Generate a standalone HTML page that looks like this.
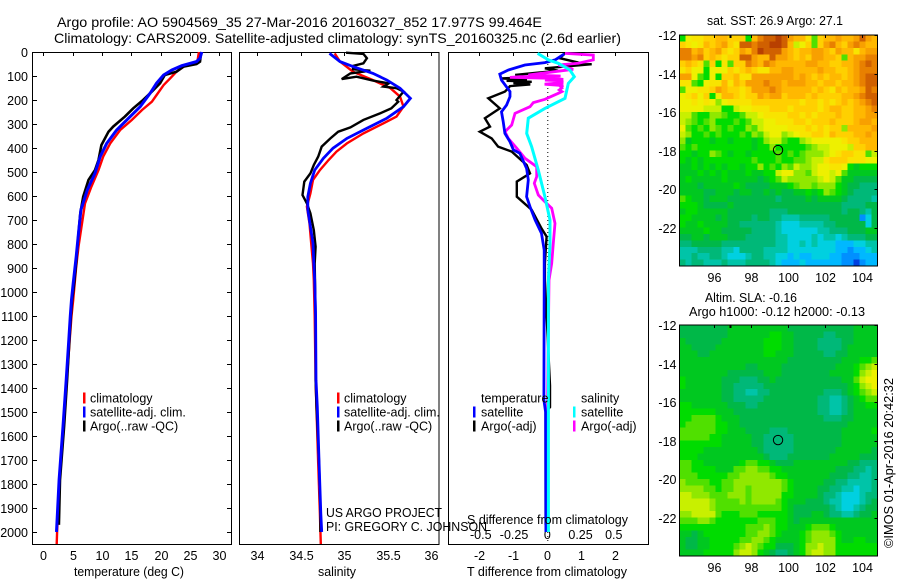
<!DOCTYPE html>
<html lang="en">
<head>
<meta charset="utf-8">
<title>Argo profile</title>
<style>
html,body{margin:0;padding:0;background:#fff;width:900px;height:580px;overflow:hidden}
svg{display:block}
text{font-family:"Liberation Sans",sans-serif;font-size:12.5px;fill:#000}
.ln{fill:none;stroke-linejoin:miter;stroke-linecap:butt}
</style>
</head>
<body>
<svg id="fig" xmlns="http://www.w3.org/2000/svg" width="900" height="580" viewBox="0 0 900 580">
<rect x="0" y="0" width="900" height="580" fill="#fff"/>
<text x="57" y="27" font-size="14" style="font-size:14px" textLength="485" lengthAdjust="spacingAndGlyphs">Argo profile: AO 5904569_35 27-Mar-2016 20160327_852 17.977S 99.464E</text>
<text x="54" y="43" style="font-size:14px" textLength="567" lengthAdjust="spacingAndGlyphs">Climatology: CARS2009. Satellite-adjusted climatology: synTS_20160325.nc (2.6d earlier)</text>
<g id="layer-maps"></g>
<g id="layer-plots"></g>
<text x="74" y="576" textLength="110" lengthAdjust="spacingAndGlyphs">temperature (deg C)</text>
<text x="318" y="576" textLength="38" lengthAdjust="spacingAndGlyphs">salinity</text>
<text x="467" y="576" textLength="160" lengthAdjust="spacingAndGlyphs">T difference from climatology</text>
<text x="467" y="524" textLength="161" lengthAdjust="spacingAndGlyphs">S difference from climatology</text>
<text x="326" y="517" textLength="116" lengthAdjust="spacingAndGlyphs">US ARGO PROJECT</text>
<text x="326" y="531" textLength="161" lengthAdjust="spacingAndGlyphs">PI: GREGORY C. JOHNSON</text>
<text x="707" y="25" textLength="136" lengthAdjust="spacingAndGlyphs">sat. SST: 26.9 Argo: 27.1</text>
<text x="705" y="302" textLength="92" lengthAdjust="spacingAndGlyphs">Altim. SLA: -0.16</text>
<text x="689" y="316" textLength="176" lengthAdjust="spacingAndGlyphs">Argo h1000: -0.12 h2000: -0.13</text>
<text transform="translate(893,548) rotate(-90)" textLength="170" lengthAdjust="spacingAndGlyphs">©IMOS 01-Apr-2016 20:42:32</text>
</svg>
<script>
// ---- profile data ----
const climDepth=[0,40,50,58,82,110,138,179,207,242,283,325,381,436,492,561,631,728,811,894,978,1033,1100,1200,1367,1561,1783,2000,2050];
const climTemp=[26.5,26.25,25.3,24.1,22.7,21.6,20.5,19.3,18.5,16.8,15.1,13.1,11.4,10.2,9.4,8.2,7.1,6.5,6,5.6,5.3,5.1,4.8,4.5,4,3.45,2.78,2.35,2.28];
const satDepth=[0,26,40,57,75,96,130,172,228,269,325,381,436,505,575,658,755,853,964,1033,1100,1200,1367,1561,1783,2000];
const satTemp=[27,26.7,26.1,23.6,21.9,20.5,19.3,18.2,16.5,14.8,12.5,10.8,9.7,8.8,7.5,6.4,6,5.6,5.1,4.8,4.6,4.35,3.9,3.35,2.7,2.25];
const argoDepth=[0,40,50,61,82,96,130,165,200,235,269,311,332,388,450,492,533,603,672,755,880,978,1033,1100,1200,1367,1561,1783,1970];
const argoTemp=[26.9,26.7,26.1,23.9,22.7,20.7,19.9,18.5,17,15.3,13.9,11.9,11.1,9.9,9.4,8.8,7.7,6.8,6.3,6,5.6,5.2,4.9,4.7,4.45,4.05,3.55,2.85,2.65];

const climSalDepth=[6,40,82,117,151,186,228,269,297,339,381,415,450,492,533,589,644,714,797,881,950,1100,1367,1714,1922,2050];
const climSal=[34.89,34.95,35.1,35.33,35.53,35.64,35.68,35.6,35.45,35.22,35.03,34.91,34.82,34.72,34.64,34.61,34.57,34.6,34.62,34.64,34.65,34.66,34.67,34.7,34.72,34.73];
const satSalDepth=[6,40,61,89,117,151,193,228,276,318,360,401,443,492,547,603,658,728,797,881,950,1100,1367,1478,1714,1922,2000];
const satSal=[34.83,34.95,35.1,35.33,35.49,35.64,35.76,35.68,35.49,35.26,35.03,34.87,34.76,34.66,34.61,34.58,34.58,34.61,34.64,34.65,34.66,34.67,34.675,34.69,34.71,34.73,34.74];
const argoSalDepth=[3,8,26,47,58,72,78,89,113,103,119,131,144,151,165,200,207,235,256,283,314,332,360,394,436,471,506,540,596,631,672,742,811,881,1100,1367,1478,1714,1922,2000];
const argoSal=[35.02,35.22,35.26,35.22,35.1,35.1,35.3,35.07,34.97,35.14,35.33,35.51,35.45,35.6,35.68,35.6,35.62,35.54,35.41,35.22,35.07,34.93,34.84,34.74,34.7,34.65,34.61,34.54,34.52,34.57,34.61,34.65,34.67,34.66,34.67,34.67,34.68,34.71,34.725,34.725];

const dTempSatDepth=[8,33,44,54,75,92,117,165,186,221,249,290,339,374,408,422,485,533,603,644,700,756,825,950,1450,1500,2000];
const dTempSat=[0.5,0.23,-0.07,-0.66,-1.15,-1.4,-1.35,-1.1,-1.1,-1.2,-1.35,-1.3,-1.25,-1.1,-1,-0.81,-0.61,-0.56,-0.61,-0.51,-0.36,-0.17,-0.09,-0.09,-0.1,-0.05,-0.04];
const dTempArgoDepth=[6,26,47,54,51,68,78,96,86,104,110,116,120,124,130,135,142,151,165,193,235,276,311,332,360,394,415,471,506,540,603,658,735,769,881,950,1390,1480,1500,1970];
const dTempArgo=[0.52,0.37,1.01,0.32,1.31,-0.07,0.32,-0.95,-0.27,-0.3,-1.35,-0.6,-1.2,-0.46,-1,-0.5,-1.1,-1.15,-1.25,-1.74,-1.4,-1.84,-1.69,-1.99,-1.64,-1.45,-1.05,-0.61,-0.51,-0.9,-0.9,-0.46,-0.17,-0.02,-0.07,-0.07,0.08,0.08,-0.05,-0.05];
const dSalSatDepth=[6,33,47,75,103,131,193,235,276,339,394,492,603,700,797,950,1300,2000];
const dSalSat=[-0.073,0.008,0.083,0.17,0.203,0.158,0.133,-0.018,-0.143,-0.155,-0.118,-0.068,-0.018,0.02,0.02,0.008,0.008,0.008];
const dSalArgoDepth=[6,13,33,47,54,72,96,100,103,106,110,114,117,120,124,128,134,140,144,150,158,165,172,197,211,228,256,304,332,360,401,443,478,519,547,596,624,651,714,797,881,950,1300,2000];
const dSalArgo=[0.133,0.346,0.346,0.233,0.083,0.195,-0.143,0.1,-0.2,-0.281,0.05,0.12,-0.018,0.12,0.09,0.12,-0.02,0.12,0.1,0.11,0.09,0.11,0.083,-0.018,-0.105,-0.13,-0.243,-0.268,-0.318,-0.293,-0.23,-0.168,-0.08,-0.08,-0.098,-0.068,-0.018,0.033,0.058,0.045,0.033,0.013,0.005,-0.01];

// ---- tick labels ----
const depthTicks=[0,100,200,300,400,500,600,700,800,900,1000,1100,1200,1300,1400,1500,1600,1700,1800,1900,2000];
const tempTicks=[0,5,10,15,20,25,30];
const salTicks=[34,34.5,35,35.5,36];
const dTempTicks=[-2,-1,0,1,2];
const dSalTicks=[-0.5,-0.25,0,0.25,0.5];
const lonTicks=[96,98,100,102,104];
const latTicks=[-12,-14,-16,-18,-20,-22];

// ---- float position ----
const argoLon=[99.464];
const argoLat=[-17.977];

// ---- map grids: colour-class level per cell, 33 columns x 36 rows, north to south ----
const sstGrid=[
[8,12,13,13,14,14,15,15,14,14,14,8,15,17,18,18,19,18,16,15,15,13,9,14,15,15,16,15,15,16,18,16,15],
[14,13,12,13,15,14,15,16,14,13,18,18,17,18,18,19,19,18,15,11,12,14,9,14,16,17,15,14,16,17,16,15,15],
[17,17,15,16,14,15,16,14,13,14,16,15,17,19,18,18,18,16,15,14,15,15,16,16,15,14,16,15,15,13,15,16,16],
[17,17,16,17,14,15,14,13,14,14,18,18,16,15,15,18,16,16,15,14,15,14,16,16,15,15,14,9,15,16,16,17,17],
[14,15,14,13,9,14,8,13,9,14,14,17,16,15,17,16,15,15,15,15,15,16,16,15,15,14,14,15,15,16,17,18,17],
[13,14,12,12,8,12,12,12,14,13,14,15,14,13,13,15,15,16,16,15,15,15,15,16,15,15,14,14,15,16,17,17,17],
[16,16,12,9,8,12,8,14,14,15,13,13,16,16,16,16,16,16,16,15,16,15,14,15,14,15,15,14,15,16,17,18,18],
[13,13,9,8,12,13,13,15,13,15,14,16,16,16,17,16,16,15,16,16,16,15,15,14,15,15,14,15,15,16,17,18,18],
[9,12,12,13,13,14,16,15,14,14,13,14,16,16,16,17,16,15,15,15,15,15,14,15,14,13,15,14,15,15,16,18,17],
[12,13,14,12,14,8,12,15,15,14,13,14,14,16,15,16,16,14,15,15,15,14,15,14,14,14,14,15,15,16,17,18,18],
[12,12,13,12,13,12,10,12,13,13,13,13,14,14,14,14,14,14,14,14,13,14,14,13,14,13,14,15,14,15,16,17,18],
[12,12,12,12,11,11,11,8,8,11,12,12,13,13,13,14,14,14,13,14,14,14,14,13,14,15,15,14,14,15,15,16,17],
[11,11,9,8,8,10,10,9,8,8,9,11,11,12,13,13,13,13,14,14,13,14,13,14,14,14,15,14,14,15,15,16,16],
[11,10,9,8,9,10,8,8,8,9,8,9,11,11,12,12,13,13,13,14,14,13,14,14,14,15,14,14,14,15,16,16,15],
[12,9,8,9,8,10,9,8,9,8,8,10,9,11,12,12,12,12,13,13,13,14,13,14,13,14,14,10,15,15,15,15,16],
[11,10,8,8,9,8,9,8,8,8,9,8,10,9,11,12,12,10,11,12,13,13,14,14,13,15,14,14,14,15,15,16,15],
[10,7,8,8,8,7,8,8,7,8,8,8,7,8,10,11,11,9,8,8,10,11,12,12,12,12,12,13,14,14,15,15,15],
[9,8,9,8,8,8,8,8,8,8,8,8,7,8,8,10,8,8,8,8,8,9,10,11,11,12,12,12,11,14,14,15,15],
[8,8,7,8,8,10,9,8,7,8,8,7,8,8,8,8,9,8,9,8,9,10,10,10,11,12,13,14,14,13,13,9,11],
[8,7,8,7,8,8,8,8,8,8,8,8,9,8,8,8,9,8,8,9,9,10,11,11,13,14,14,14,13,13,13,12,12],
[7,7,8,7,8,7,8,7,8,8,7,8,8,10,8,9,8,10,9,11,10,10,11,12,12,13,13,12,8,7,8,8,8],
[7,7,7,8,7,8,7,8,7,7,7,8,7,7,8,8,11,12,12,10,10,9,11,12,12,11,12,9,7,7,7,7,7],
[7,8,7,7,7,7,7,8,7,7,7,7,7,6,7,8,9,11,10,10,10,10,10,11,12,11,9,7,7,6,6,6,6],
[7,7,7,6,7,7,7,7,7,8,7,6,6,6,6,7,7,7,8,9,10,10,9,10,10,10,8,7,6,6,5,5,5],
[7,7,7,7,6,6,7,7,7,6,7,7,6,6,7,6,7,6,6,7,7,8,7,8,10,9,8,7,6,5,5,5,5],
[9,8,7,7,6,7,7,7,6,6,6,6,6,6,6,6,5,6,6,6,6,7,6,7,7,7,7,6,5,5,5,5,4],
[8,8,8,7,6,6,6,6,7,6,6,6,6,6,6,6,6,6,6,6,6,6,6,6,6,6,6,5,5,5,5,6,6],
[7,8,8,7,7,7,7,7,6,6,6,6,6,6,6,5,5,5,6,6,6,6,6,6,6,6,6,5,6,6,5,4,6],
[8,8,7,7,7,7,6,7,6,6,6,6,5,6,6,5,5,4,4,4,5,5,5,5,5,6,6,6,6,6,1,3,6],
[8,7,7,8,7,7,7,7,6,6,5,5,5,5,5,5,4,3,3,3,4,4,4,4,5,5,6,6,6,6,6,3,6],
[7,7,7,7,8,7,7,6,6,6,6,6,5,5,5,5,4,3,3,3,3,3,3,4,4,5,5,5,6,6,6,7,7],
[6,6,7,7,6,7,7,7,6,6,6,5,5,5,5,5,4,4,3,3,3,3,4,3,4,4,3,4,5,5,5,6,6],
[5,5,6,6,6,6,6,5,5,5,5,5,5,5,5,5,4,4,3,3,4,3,4,3,3,3,2,2,2,3,3,4,4],
[4,4,4,5,5,5,5,4,4,3,5,5,5,5,4,4,4,4,3,3,3,3,3,3,3,3,2,2,1,2,2,3,4],
[4,4,5,4,4,5,5,4,3,3,3,4,5,5,4,4,3,3,2,3,2,2,3,3,3,2,2,1,1,1,2,2,2],
[5,4,5,5,4,4,4,5,4,4,4,5,5,5,5,4,3,2,2,2,3,2,2,2,2,2,2,1,1,0,1,2,2]
];
const slaGrid=[
[6,6,6,6,6,6,6,6,7,7,7,7,7,7,7,7,7,7,6,6,6,6,6,6,6,6,6,6,6,7,7,7,7],
[6,6,6,6,6,6,6,6,7,7,7,7,7,7,7,8,8,7,7,6,6,6,6,6,5,5,6,6,6,7,7,7,7],
[7,6,6,6,6,6,6,7,7,7,7,7,7,7,8,8,8,7,7,6,6,6,6,5,5,5,5,6,6,7,7,7,7],
[7,7,6,6,6,6,7,7,7,7,7,7,7,7,8,8,8,7,7,6,6,6,6,5,5,5,5,6,7,7,7,7,7],
[7,7,7,6,6,7,7,7,7,7,7,7,7,7,8,8,7,7,7,6,6,6,6,6,5,5,6,6,7,7,7,7,7],
[7,7,7,7,7,7,7,7,7,7,7,7,7,7,7,7,7,7,6,6,6,6,6,6,6,6,6,7,7,7,8,8,9],
[7,7,7,7,7,7,7,7,7,7,7,6,6,7,7,7,7,6,6,6,6,6,6,6,6,6,7,7,7,8,9,10,11],
[7,7,7,7,7,7,7,7,6,6,6,6,6,6,7,7,7,6,6,6,6,6,6,6,6,7,7,7,7,8,10,11,12],
[8,7,7,7,7,7,7,6,6,6,5,5,5,6,6,7,6,6,6,6,6,6,6,6,6,6,6,7,7,9,11,12,12],
[8,7,7,7,7,7,7,6,6,5,5,5,5,5,6,6,6,6,6,6,6,6,6,6,6,6,6,6,7,8,10,11,12],
[7,7,7,7,7,7,7,6,6,5,5,4,4,5,5,6,6,6,6,6,6,6,6,6,5,5,5,6,7,8,9,10,11],
[7,7,7,7,7,7,7,6,6,5,5,5,5,5,6,6,6,6,6,6,6,6,6,5,5,4,4,5,6,7,8,9,9],
[8,8,7,7,7,7,7,7,6,6,6,5,5,6,6,6,6,6,6,6,6,6,6,5,5,4,4,5,6,7,7,8,8],
[8,8,8,8,8,8,7,7,7,6,6,6,6,6,6,6,6,6,6,6,6,6,6,5,5,4,4,5,6,7,7,7,7],
[8,8,9,9,9,9,8,7,7,7,6,6,6,6,6,6,6,6,6,6,6,6,6,6,5,5,5,6,6,7,7,7,7],
[8,9,9,9,9,9,8,8,7,7,6,6,6,6,6,6,6,6,6,6,6,6,6,6,6,6,6,6,7,7,7,7,7],
[9,9,9,9,9,9,8,8,7,7,7,6,6,6,6,5,5,5,6,6,6,6,6,6,6,6,6,7,7,7,7,7,8],
[9,9,9,9,9,8,8,7,7,7,7,7,6,6,5,5,5,5,5,6,6,6,6,6,6,6,6,7,7,7,7,7,7],
[8,8,8,8,8,8,8,7,7,7,7,7,6,6,5,5,5,5,5,6,6,6,6,6,6,6,6,7,7,7,7,7,7],
[8,8,8,8,7,7,7,7,7,7,7,7,7,6,5,5,5,5,5,6,6,6,6,6,6,6,7,7,7,7,7,7,6],
[8,8,8,7,7,7,7,7,7,7,7,7,7,7,6,5,5,5,6,6,6,6,6,6,6,7,7,7,7,7,6,6,6],
[9,9,8,8,7,7,7,7,7,7,8,9,9,8,8,7,6,6,6,7,7,7,7,7,7,7,7,7,6,6,5,5,5],
[9,9,8,8,8,8,7,7,7,9,9,10,10,9,9,8,8,7,7,7,7,7,7,7,7,7,6,6,6,5,5,4,5],
[9,9,9,8,8,8,8,8,9,9,10,10,10,10,10,9,8,8,7,7,7,7,7,7,7,6,6,6,5,5,4,4,5],
[10,9,9,9,9,8,8,9,9,10,10,10,10,10,10,10,10,9,8,7,7,7,7,7,6,6,5,5,4,4,4,4,5],
[10,10,10,10,9,9,8,9,9,10,10,9,10,10,10,10,10,9,8,7,7,7,7,6,6,5,5,4,4,3,4,4,5],
[11,11,10,10,10,9,9,9,10,10,10,9,10,10,10,10,10,8,8,7,7,7,7,6,5,5,4,3,3,3,4,5,5],
[11,11,11,11,11,10,9,9,9,9,10,9,10,10,10,10,9,8,7,7,7,6,6,6,5,4,4,3,3,3,4,5,6],
[11,11,11,11,11,10,9,9,9,9,9,9,9,9,9,9,9,8,7,6,6,6,6,6,6,5,4,3,3,4,5,6,6],
[10,10,11,11,11,11,9,8,8,8,9,9,9,8,8,8,8,8,7,6,6,6,7,7,6,5,5,4,4,5,6,6,7],
[9,9,9,10,10,9,8,8,8,8,8,8,8,9,9,9,8,8,7,6,7,7,7,7,7,7,7,7,7,7,7,7,7],
[8,8,8,8,8,8,8,8,8,8,8,9,9,9,10,9,8,8,7,7,7,8,9,9,9,8,7,7,7,7,7,7,7],
[7,7,6,7,8,8,8,8,8,8,8,9,9,10,10,9,8,7,7,7,8,9,10,10,10,9,8,7,7,7,7,7,7],
[7,6,6,7,7,8,8,8,8,8,9,9,10,10,9,8,7,7,7,7,8,9,10,10,10,10,8,7,7,8,8,7,7],
[7,6,6,7,7,8,8,8,8,9,10,11,10,9,8,8,6,6,6,7,8,10,10,11,10,10,8,8,8,8,8,8,8],
[7,7,7,7,8,8,8,8,8,10,11,11,10,8,7,6,5,5,6,7,8,10,11,11,10,10,8,8,8,8,8,8,8]
];
const palette=["#0040e0","#0090ff","#00b8ff","#00d0e0","#00c4a8","#00b878","#00b848","#00c820","#00dc00","#50e000","#90e800","#c8f000","#eef000","#f8e400","#ffd000","#ffb800","#f8a000","#e88000","#d06000","#b84000"];

// ---- axis functions ----
const NS="http://www.w3.org/2000/svg";
const yDepth=d=>52+0.24*d;
const xTemp=t=>43.3+5.87*t;
const xSal=s=>344.3+87*(s-35);
const xDTemp=t=>547.3+33.9*t;
const xDSal=s=>547.3+133*s;
const xLon=l=>714.3+18.4*(l-96);
const yLatTop=l=>35+19.25*(-12-l);
const yLatBot=l=>325+19.25*(-12-l);

const plots=document.getElementById('layer-plots');
const maps=document.getElementById('layer-maps');

function make(tag,parent,attrs){
  const el=document.createElementNS(NS,tag);
  for(const k in attrs){el.setAttribute(k,attrs[k]);}
  parent.appendChild(el);
  return el;
}
function label(parent,x,y,str,anchor,name){
  const el=make('text',parent,{x:x,y:y,'text-anchor':anchor});
  el.textContent=str;
  
  
  return el;
}
function segment(parent,x1,y1,x2,y2,name){
  const el=make('line',parent,{x1:x1,y1:y1,x2:x2,y2:y2,stroke:'#000','stroke-width':1,'shape-rendering':'crispEdges'});
  
  
  return el;
}
function frame(parent,x,y,w,h,name){
  const el=make('rect',parent,{x:x,y:y,width:w,height:h,fill:'none',stroke:'#000','stroke-width':1,'shape-rendering':'crispEdges'});
  
  
  return el;
}
function series(xf,values,depths,color,width,name){
  const pts=values.map((v,i)=>xf(v).toFixed(1)+','+yDepth(depths[i]).toFixed(1)).join(' ');
  const el=make('polyline',plots,{points:pts,class:'ln',stroke:color,'stroke-width':width});
  
  
  return el;
}
function legendBar(x,yc,color,name){
  const el=make('rect',plots,{x:x,y:yc-5.5,width:2.5,height:11,fill:color});
  
  
  return el;
}

// ---- maps ----
function drawMap(grid,x0,y0,name){
  const cw=198/33, ch=231/36;
  grid.forEach((row,r)=>{
    row.forEach((lvl,c)=>{
      const cell=make('rect',maps,{x:x0+c*cw,y:(y0+r*ch).toFixed(2),width:cw+0.2,height:(ch+0.2).toFixed(2),fill:palette[lvl],'shape-rendering':'crispEdges'});
      
      
    });
  });
}
function drawMapFrame(yLat,x0,y0,name){
  frame(maps,x0,y0,198,231,name+'-frame');
  lonTicks.forEach(l=>{
    const x=Math.round(xLon(l))+0.5;
    segment(maps,x,y0,x,y0+3,name+'-lon-tick');
    label(maps,x,y0+231+16,String(l),'middle',name+'-lon-label');
  });
  latTicks.forEach(l=>{
    const y=Math.round(yLat(l))+0.5;
    segment(maps,x0+195,y,x0+198,y,name+'-lat-tick');
    label(maps,x0-3,y+4.5,String(l),'end',name+'-lat-label');
  });
  const px=xLon(argoLon[0]), py=yLat(argoLat[0]);
  const ring=make('circle',maps,{cx:px,cy:py,r:4.7,fill:'none',stroke:'#000','stroke-width':1});
  
  
  const dot=make('rect',maps,{x:729.5,y:y0,width:2,height:3,fill:'#000'});
  
  
}
drawMap(sstGrid,679.5,35,'sst-map');
drawMapFrame(yLatTop,679.5,35,'sst-map');
drawMap(slaGrid,679.5,325,'sla-map');
drawMapFrame(yLatBot,679.5,325,'sla-map');

// ---- panel 1: temperature ----
frame(plots,32.5,52.5,199,492,'temperature-panel-frame');
depthTicks.forEach(d=>{
  const y=Math.round(yDepth(d))+0.5;
  segment(plots,32.5,y,37,y,'depth-tick-left');
  segment(plots,227,y,231.5,y,'depth-tick-right');
  label(plots,28,y+4.5,String(d),'end','depth-tick-label');
});
tempTicks.forEach(t=>{
  const x=Math.round(xTemp(t))+0.5;
  segment(plots,x,52.5,x,56,'temperature-tick');
  label(plots,x,560,String(t),'middle','temperature-tick-label');
});
series(xTemp,climTemp,climDepth,'#ff0000',2.4,'temperature-climatology-line');
series(xTemp,argoTemp,argoDepth,'#000000',2.6,'temperature-argo-line');
series(xTemp,satTemp,satDepth,'#0000ff',3,'temperature-satellite-line');
legendBar(83,398,'#ff0000','temperature-legend-climatology-swatch');
legendBar(83,412,'#0000ff','temperature-legend-satellite-swatch');
legendBar(83,426,'#000000','temperature-legend-argo-swatch');
label(plots,90,402.5,'climatology','start','temperature-legend-climatology');
label(plots,90,416.5,'satellite-adj. clim.','start','temperature-legend-satellite');
label(plots,90,430.5,'Argo(..raw -QC)','start','temperature-legend-argo');

// ---- panel 2: salinity ----
frame(plots,239.5,52.5,199.5,492,'salinity-panel-frame');
salTicks.forEach(s=>{
  const x=Math.round(xSal(s))+0.5;
  segment(plots,x,52.5,x,56,'salinity-tick');
  label(plots,x,560,String(s),'middle','salinity-tick-label');
});
series(xSal,climSal,climSalDepth,'#ff0000',2.4,'salinity-climatology-line');
series(xSal,argoSal,argoSalDepth,'#000000',2.4,'salinity-argo-line');
series(xSal,satSal,satSalDepth,'#0000ff',2.8,'salinity-satellite-line');
legendBar(337,398,'#ff0000','salinity-legend-climatology-swatch');
legendBar(337,412,'#0000ff','salinity-legend-satellite-swatch');
legendBar(337,426,'#000000','salinity-legend-argo-swatch');
label(plots,344,402.5,'climatology','start','salinity-legend-climatology');
label(plots,344,416.5,'satellite-adj. clim.','start','salinity-legend-satellite');
label(plots,344,430.5,'Argo(..raw -QC)','start','salinity-legend-argo');

// ---- panel 3: differences ----
frame(plots,448.5,52.5,200,492,'difference-panel-frame');
dTempTicks.forEach(t=>{
  const x=Math.round(xDTemp(t))+0.5;
  segment(plots,x,52.5,x,56,'t-difference-tick');
  label(plots,x,560,String(t),'middle','t-difference-tick-label');
});
dSalTicks.forEach(s=>{
  label(plots,xDSal(s),539,String(s),'middle','s-difference-tick-label');
});
const zeroLine=make('line',plots,{x1:xDTemp(0)+0.5,y1:52,x2:xDTemp(0)+0.5,y2:544,stroke:'#000','stroke-width':1,'stroke-dasharray':'1 3'});


series(xDTemp,dTempArgo,dTempArgoDepth,'#000000',2.4,'t-difference-argo-line');
series(xDSal,dSalArgo,dSalArgoDepth,'#ff00ff',2.8,'s-difference-argo-line');
series(xDTemp,dTempSat,dTempSatDepth,'#0000ff',2.8,'t-difference-satellite-line');
series(xDSal,dSalSat,dSalSatDepth,'#00ffff',3,'s-difference-satellite-line');
label(plots,481,402.5,'temperature','start','difference-legend-temperature-heading');
label(plots,581,402.5,'salinity','start','difference-legend-salinity-heading');
legendBar(473,412,'#0000ff','difference-legend-t-satellite-swatch');
legendBar(473,426,'#000000','difference-legend-t-argo-swatch');
legendBar(573,412,'#00ffff','difference-legend-s-satellite-swatch');
legendBar(573,426,'#ff00ff','difference-legend-s-argo-swatch');
label(plots,481,416.5,'satellite','start','difference-legend-t-satellite');
label(plots,481,430.5,'Argo(-adj)','start','difference-legend-t-argo');
label(plots,581,416.5,'satellite','start','difference-legend-s-satellite');
label(plots,581,430.5,'Argo(-adj)','start','difference-legend-s-argo');
</script>
</body>
</html>
